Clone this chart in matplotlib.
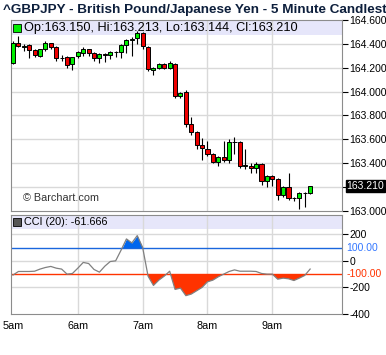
import numpy as np
import matplotlib
matplotlib.use('Agg')
import matplotlib.pyplot as plt
from matplotlib.patches import Rectangle

plt.rcParams['font.family'] = ['Liberation Sans', 'DejaVu Sans']

# ==================== DATA ====================
title = "^GBPJPY - British Pound/Japanese Yen - 5 Minute Candlestick Chart"
hour_labels = ['5am', '6am', '7am', '8am', '9am']
hour_index = [0, 12, 24, 36, 48]

opens = [164.24, 164.41, 164.37, 164.39, 164.35, 164.30, 164.355, 164.405, 164.37, 164.28,
         164.29, 164.23, 164.30, 164.32, 164.355, 164.32, 164.28, 164.315, 164.31, 164.33,
         164.33, 164.39, 164.43, 164.45, 164.49, 164.375, 164.18, 164.20, 164.23, 164.20,
         164.23, 163.96, 164.00, 163.725, 163.66, 163.55, 163.52, 163.48, 163.41, 163.45,
         163.43, 163.58, 163.58, 163.38, 163.38, 163.36, 163.39, 163.25, 163.29, 163.27,
         163.13, 163.20, 163.11, 163.11, 163.15, 163.150]
highs = [164.42, 164.47, 164.40, 164.40, 164.36, 164.36, 164.42, 164.41, 164.38, 164.31,
         164.30, 164.29, 164.34, 164.37, 164.36, 164.33, 164.32, 164.32, 164.34, 164.34,
         164.40, 164.44, 164.46, 164.51, 164.50, 164.38, 164.21, 164.24, 164.24, 164.26,
         164.24, 164.00, 164.01, 163.79, 163.67, 163.61, 163.59, 163.49, 163.46, 163.59,
         163.60, 163.62, 163.585, 163.52, 163.40, 163.41, 163.40, 163.30, 163.30, 163.28,
         163.21, 163.32, 163.12, 163.16, 163.16, 163.213]
lows = [164.23, 164.37, 164.34, 164.28, 164.29, 164.29, 164.34, 164.36, 164.26, 164.26,
        164.20, 164.18, 164.28, 164.30, 164.30, 164.26, 164.24, 164.25, 164.27, 164.29,
        164.28, 164.32, 164.30, 164.40, 164.36, 164.17, 164.14, 164.19, 164.19, 164.19,
        163.95, 163.95, 163.70, 163.64, 163.52, 163.43, 163.46, 163.40, 163.38, 163.41,
        163.40, 163.48, 163.36, 163.35, 163.32, 163.32, 163.22, 163.20, 163.21, 163.09,
        163.12, 163.09, 163.08, 163.02, 163.03, 163.144]
closes = [164.41, 164.38, 164.385, 164.35, 164.31, 164.355, 164.405, 164.37, 164.28, 164.285,
          164.22, 164.29, 164.33, 164.355, 164.32, 164.28, 164.315, 164.31, 164.33, 164.33,
          164.39, 164.43, 164.445, 164.49, 164.38, 164.19, 164.20, 164.23, 164.20, 164.24,
          163.96, 163.99, 163.725, 163.66, 163.55, 163.53, 163.48, 163.41, 163.45, 163.43,
          163.58, 163.58, 163.38, 163.38, 163.36, 163.39, 163.25, 163.29, 163.27, 163.13,
          163.20, 163.11, 163.11, 163.15, 163.15, 163.210]

cci = [-107, -80, -80, -80, -78, -62, -50, -42, -55, -62,
       -100, -95, -55, -12, -20, -65, -85, -40, -5, 0,
       80, 165, 135, 190, 100, -115, -185, -145, -115, -78,
       -215, -205, -262, -250, -225, -200, -158, -145, -120, -100,
       -80, -68, -78, -78, -78, -80, -95, -100, -100, -138,
       -130, -135, -148, -130, -110, -61.666]

price_ticks = [163.0, 163.2, 163.4, 163.6, 163.8, 164.0, 164.2, 164.4, 164.6]
last_close = 163.210
cci_ticks = [200, 0, -200, -400]
# ===============================================

W, H = 386, 355
fig = plt.figure(figsize=(W / 100, H / 100), dpi=100)

def rect(l, t, r, b):
    return [l / W, 1 - b / H, (r - l) / W, (b - t) / H]

ax = fig.add_axes(rect(11, 20, 342, 211))
ax2 = fig.add_axes(rect(11, 215, 342, 314))

grid_c = '#d9d9d9'
frame_c = '#8c8c8c'
band_c = '#e6e6fa'
lab_fs = 7.5
x = np.arange(len(opens))
xlim = (-0.37, 60.9)

# ==================== MAIN PANEL ====================
o = np.array(opens); c = np.array(closes)
up = c >= o
body_lo = np.minimum(o, c)
body_h = np.maximum(np.abs(c - o), 0.002)
ax.vlines(x, lows, highs, color='black', linewidth=0.8, zorder=2)
ax.bar(x, body_h, bottom=body_lo, width=0.75,
       color=np.where(up, '#00ee00', '#ee0000'), edgecolor='black', linewidth=0.7, zorder=3)

ax.set_xlim(*xlim)
ax.set_ylim(163.0, 164.6)
ax.add_patch(Rectangle((0, 1 - 15 / 191), 1, 15 / 191, transform=ax.transAxes,
                       color=band_c, zorder=0, linewidth=0))
for v in price_ticks[1:-1]:
    ax.axhline(v, color=grid_c, linewidth=1, zorder=1)
for h in hour_index[1:]:
    ax.axvline(h, color=grid_c, linewidth=1, zorder=1)

# 163.200 label is covered by the last-price box
ax.yaxis.tick_right()
ax.set_yticks(price_ticks)
ax.set_yticklabels(["" if abs(v - 163.2) < 1e-9 else f"{v:.3f}" for v in price_ticks])
ax.tick_params(axis='y', length=4, width=0.8, pad=1.5, labelsize=lab_fs, color='black')
ax.set_xticks([])
for s in ax.spines.values():
    s.set_color(frame_c)

ax.plot(0.017, 1 - 7.5 / 191, 's', transform=ax.transAxes, color='#00ee00',
        markeredgecolor='black', markersize=6, markeredgewidth=0.6, zorder=5)
ax.text(0.04, 1 - 7.5 / 191, "Op:163.150, Hi:163.213, Lo:163.144, Cl:163.210",
        transform=ax.transAxes, va='center', ha='left', fontsize=9.2, zorder=5)
ax.text(0.035, 13 / 191, "\u00a9 Barchart.com", transform=ax.transAxes,
        va='center', ha='left', fontsize=7.8, color='#333333')

ax.text(1.014, last_close, f"{last_close:.3f}", transform=ax.get_yaxis_transform(),
        va='center', ha='left', fontsize=lab_fs, color='white', zorder=6,
        bbox=dict(boxstyle='square,pad=0.1', facecolor='black', edgecolor='black'))

fig.text(3 / W, 1 - 10 / H, title, fontsize=9.7, fontweight='bold', color='#0d1f3c',
         va='center', ha='left')

# ==================== CCI PANEL ====================
cci_a = np.array(cci, dtype=float)
ax2.plot(x, cci_a, color='#808080', linewidth=0.9, zorder=3)
ax2.fill_between(x, cci_a, 100, where=cci_a > 100, interpolate=True,
                 color='#0066ee', linewidth=0, zorder=2)
ax2.fill_between(x, cci_a, -100, where=cci_a < -100, interpolate=True,
                 color='#ff3300', linewidth=0, zorder=2)
ax2.axhline(100, color='#1a66dd', linewidth=1, zorder=2)
ax2.axhline(-100, color='#ff3300', linewidth=1, zorder=2)

ax2.set_xlim(*xlim)
ax2.set_ylim(-400, 345)
ax2.add_patch(Rectangle((0, 1 - 14 / 99), 1, 14 / 99, transform=ax2.transAxes,
                        color=band_c, zorder=0, linewidth=0))
for v in [200, 0, -200]:
    ax2.axhline(v, color=grid_c, linewidth=1, zorder=1)
for h in hour_index[1:]:
    ax2.axvline(h, color=grid_c, linewidth=1, zorder=1)

ax2.yaxis.tick_right()
ax2.set_yticks(cci_ticks)
ax2.set_yticklabels([str(v) for v in cci_ticks])
ax2.tick_params(axis='y', length=4, width=0.8, pad=1.5, labelsize=lab_fs, color='black')
ax2.text(1.014, 100, "100.00", transform=ax2.get_yaxis_transform(), va='center', ha='left',
         fontsize=lab_fs, color='#3377ff')
ax2.text(1.014, -100, "-100.00", transform=ax2.get_yaxis_transform(), va='center', ha='left',
         fontsize=lab_fs, color='#ff3300')

ax2.set_xticks(hour_index)
ax2.set_xticklabels(hour_labels)
ax2.tick_params(axis='x', length=0, pad=5, labelsize=7.8)
for s in ax2.spines.values():
    s.set_color(frame_c)

ax2.plot(0.017, 1 - 7 / 99, 's', transform=ax2.transAxes, color='#555555',
         markeredgecolor='black', markersize=6, markeredgewidth=0.6, zorder=5)
ax2.text(0.04, 1 - 7 / 99, "CCI (20): -61.666", transform=ax2.transAxes,
         va='center', ha='left', fontsize=7.8, zorder=5)

plt.savefig("out.png", dpi=100)
plt.close()
